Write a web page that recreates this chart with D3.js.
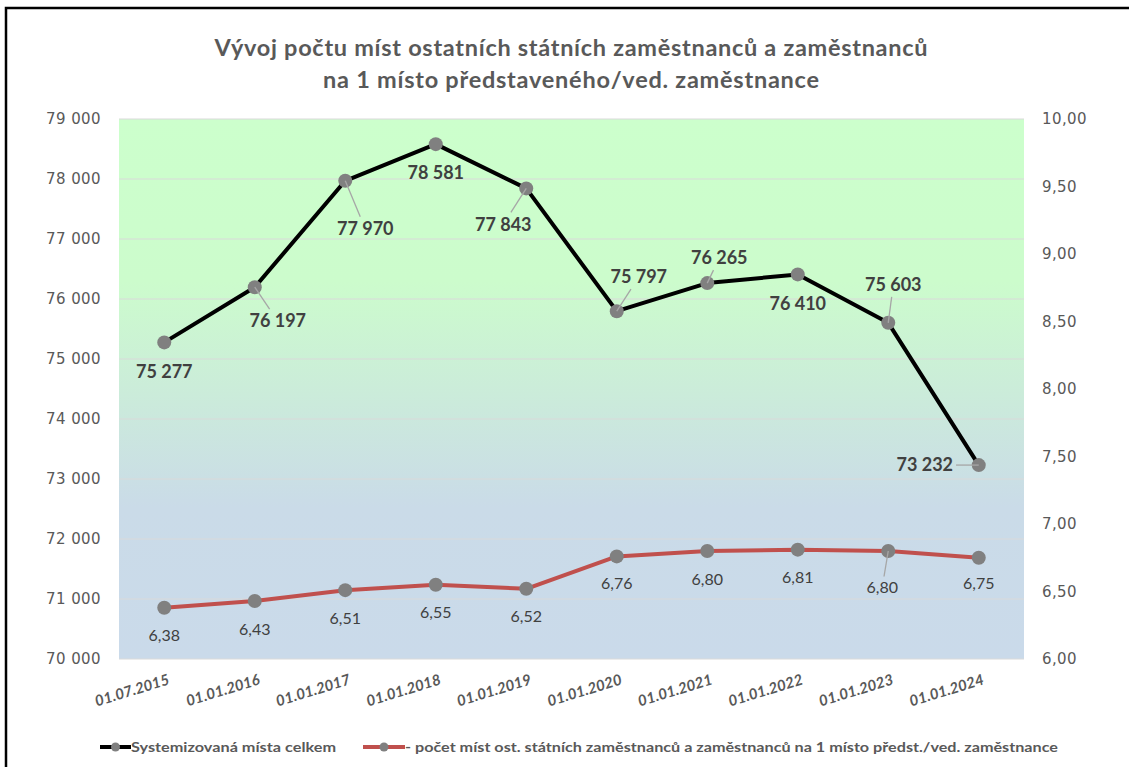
<!DOCTYPE html>
<html>
<head>
<meta charset="utf-8">
<script src="https://cdn.jsdelivr.net/npm/d3@7"></script>
<style>
    body { margin: 0; background: #fff; }
    svg { display: block; }
</style>
</head>
<body>
<svg id="chart"></svg>
<script>
// data
let dates = ["01.07.2015", "01.01.2016", "01.01.2017", "01.01.2018", "01.01.2019",
    "01.01.2020", "01.01.2021", "01.01.2022", "01.01.2023", "01.01.2024"]
let totalPlaces = [75277, 76197, 77970, 78581, 77843, 75797, 76265, 76410, 75603, 73232]
let perManager = [6.38, 6.43, 6.51, 6.55, 6.52, 6.76, 6.80, 6.81, 6.80, 6.75]
let leftTicks = [70000, 71000, 72000, 73000, 74000, 75000, 76000, 77000, 78000, 79000]
let rightTicks = [6, 6.5, 7, 7.5, 8, 8.5, 9, 9.5, 10]

let titleLines = ["Vývoj počtu míst ostatních státních zaměstnanců a zaměstnanců",
    "na 1 místo představeného/ved. zaměstnance"]
let seriesNames = ["Systemizovaná místa celkem",
    "- počet míst ost. státních zaměstnanců a zaměstnanců na 1 místo předst./ved. zaměstnance"]

// label placement (pixel offsets from the marker), as Excel placed them
let totalLabelShift = [[0, 29], [23, 34], [20, 48], [0, 29], [-23, 36], [22, -34], [12, -25], [0, 29], [5, -38], [-54, 0]]
let ratioLabelShift = [[0, 28], [0, 28], [0, 28], [0, 28], [0, 28], [0, 27], [0, 28], [0, 28], [-6, 36], [0, 26]]

const W = 1129, H = 767
let margin = ({top: 119, right: 105, bottom: 108, left: 119})
const font = "Lato, 'Open Sans', sans-serif"
const tickFont = "'DejaVu Sans', Verdana, sans-serif"

const loc = d3.formatLocale({decimal: ",", thousands: " ", grouping: [3], currency: ["", ""]})
const fmtInt = loc.format(",d")
const fmtDec = loc.format(".2f")

const svg = d3.select("#chart").attr("width", W).attr("height", H)

// frame
svg.append("rect")
    .attr("x", 6).attr("y", 8).attr("width", W + 20).attr("height", H + 20)
    .attr("fill", "#fff").attr("stroke", "#000").attr("stroke-width", 2.5)

let x = d3.scaleBand()
    .domain(dates)
    .range([margin.left, W - margin.right])
let yL = d3.scaleLinear()
    .domain([70000, 79000])
    .range([H - margin.bottom, margin.top])
let yR = d3.scaleLinear()
    .domain([6, 10])
    .range([H - margin.bottom, margin.top])
let cx = d => x(d) + x.bandwidth() / 2

// plot area gradient
const grad = svg.append("defs").append("linearGradient")
    .attr("id", "bg").attr("x1", 0).attr("y1", 0).attr("x2", 0).attr("y2", 1)
grad.append("stop").attr("offset", "0%").attr("stop-color", "#ccffcc")
grad.append("stop").attr("offset", "30%").attr("stop-color", "#ccfccc")
grad.append("stop").attr("offset", "72%").attr("stop-color", "#cadbe8")
grad.append("stop").attr("offset", "100%").attr("stop-color", "#cadaea")

svg.append("rect")
    .attr("x", margin.left).attr("y", margin.top)
    .attr("width", W - margin.right - margin.left)
    .attr("height", H - margin.bottom - margin.top)
    .attr("fill", "url(#bg)")

// gridlines
svg.append("g")
    .selectAll("line")
    .data(leftTicks)
    .join("line")
    .attr("x1", margin.left).attr("x2", W - margin.right)
    .attr("y1", d => yL(d)).attr("y2", d => yL(d))
    .attr("stroke", "#d9d9d9").attr("stroke-width", 1.2)

// axes
let leftAxis = g => g
    .attr("transform", `translate(${margin.left},0)`)
    .call(d3.axisLeft(yL).tickValues(leftTicks).tickFormat(fmtInt).tickSize(0).tickPadding(18))
    .call(g => g.select(".domain").remove())
let rightAxis = g => g
    .attr("transform", `translate(${W - margin.right},0)`)
    .call(d3.axisRight(yR).tickValues(rightTicks).tickFormat(fmtDec).tickSize(0).tickPadding(18))
    .call(g => g.select(".domain").remove())

svg.append("g").call(leftAxis)
svg.append("g").call(rightAxis)
svg.selectAll(".tick text")
    .attr("font-family", tickFont).attr("font-size", 15).attr("letter-spacing", 0.4)
    .attr("fill", "#595959")

let bottomAxis = g => g
    .attr("transform", `translate(0,${H - margin.bottom})`)
    .call(d3.axisBottom(x).tickSize(0).tickPadding(0))
    .call(g => g.select(".domain").remove())
    .call(g => g.selectAll(".tick text")
        .attr("font-family", font).attr("font-size", 15).attr("font-weight", "bold")
        .attr("font-style", "italic").attr("fill", "#595959")
        .attr("text-anchor", "end")
        .attr("y", 0).attr("dy", 0)
        .attr("transform", "translate(6,25) rotate(-17)"))

svg.append("g").call(bottomAxis)

// title
let titleWidths = [713, 496]
svg.append("g")
    .selectAll("text")
    .data(titleLines)
    .join("text")
    .attr("x", (d, i) => 571 - titleWidths[i] / 2)
    .attr("y", (d, i) => 56 + i * 32)
    .attr("font-family", font).attr("font-size", 23.5).attr("font-weight", "bold")
    .attr("fill", "#595959")
    .attr("textLength", (d, i) => titleWidths[i]).attr("lengthAdjust", "spacing")
    .text(d => d)

// lines
let totalLine = d3.line().x((d, i) => cx(dates[i])).y(d => yL(d))
let ratioLine = d3.line().x((d, i) => cx(dates[i])).y(d => yR(d))

svg.append("path")
    .attr("d", ratioLine(perManager))
    .attr("fill", "none").attr("stroke", "#c0504d").attr("stroke-width", 4)
    .attr("stroke-linejoin", "round")
svg.append("path")
    .attr("d", totalLine(totalPlaces))
    .attr("fill", "none").attr("stroke", "#000").attr("stroke-width", 4)
    .attr("stroke-linejoin", "round")

svg.append("g")
    .selectAll("circle")
    .data(perManager)
    .join("circle")
    .attr("cx", (d, i) => cx(dates[i])).attr("cy", d => yR(d)).attr("r", 7)
    .attr("fill", "#808080")
svg.append("g")
    .selectAll("circle")
    .data(totalPlaces)
    .join("circle")
    .attr("cx", (d, i) => cx(dates[i])).attr("cy", d => yL(d)).attr("r", 7)
    .attr("fill", "#808080")

// data labels with leader lines
function addLabels(values, scale, shift, fmt, size, weight) {
    const g = svg.append("g")
    values.forEach((v, i) => {
        let px = cx(dates[i]), py = scale(v)
        let lx = px + shift[i][0], ly = py + shift[i][1]
        let t = g.append("text")
            .attr("x", lx).attr("y", ly).attr("dy", "0.35em")
            .attr("text-anchor", "middle")
            .attr("font-family", font).attr("font-size", size).attr("font-weight", weight)
            .attr("fill", "#404040")
            .text(fmt(v))
        if (shift[i][0] !== 0) {
            let b = t.node().getBBox()
            let hw = b.width / 2 + 3, hh = b.height / 2 + 1
            let dx = px - lx, dy = py - ly
            let s = Math.min(dx ? hw / Math.abs(dx) : Infinity, dy ? hh / Math.abs(dy) : Infinity)
            g.insert("line", "text")
                .attr("x1", px).attr("y1", py)
                .attr("x2", lx + dx * s).attr("y2", ly + dy * s)
                .attr("stroke", "#a6a6a6").attr("stroke-width", 1.3)
        }
    })
}
addLabels(totalPlaces, yL, totalLabelShift, fmtInt, 18, "bold")
addLabels(perManager, yR, ratioLabelShift, fmtDec, 16, "normal")

// legend
const legendY = 747
const legend = svg.append("g")
let legendItems = [
    {name: seriesNames[0], color: "#000", x0: 100, x1: 131, len: 205},
    {name: seriesNames[1], color: "#c0504d", x0: 363, x1: 405, len: 653}
]
legendItems.forEach(d => {
    legend.append("line")
        .attr("x1", d.x0).attr("x2", d.x1).attr("y1", legendY).attr("y2", legendY)
        .attr("stroke", d.color).attr("stroke-width", 4)
    legend.append("circle")
        .attr("cx", (d.x0 + d.x1) / 2).attr("cy", legendY).attr("r", 4.5)
        .attr("fill", "#808080")
    legend.append("text")
        .attr("x", d.x1).attr("y", legendY).attr("dy", "0.35em")
        .attr("font-family", font).attr("font-size", 14).attr("font-weight", "bold")
        .attr("fill", "#595959")
        .attr("textLength", d.len).attr("lengthAdjust", "spacingAndGlyphs")
        .text(d.name)
})
</script>
</body>
</html>
